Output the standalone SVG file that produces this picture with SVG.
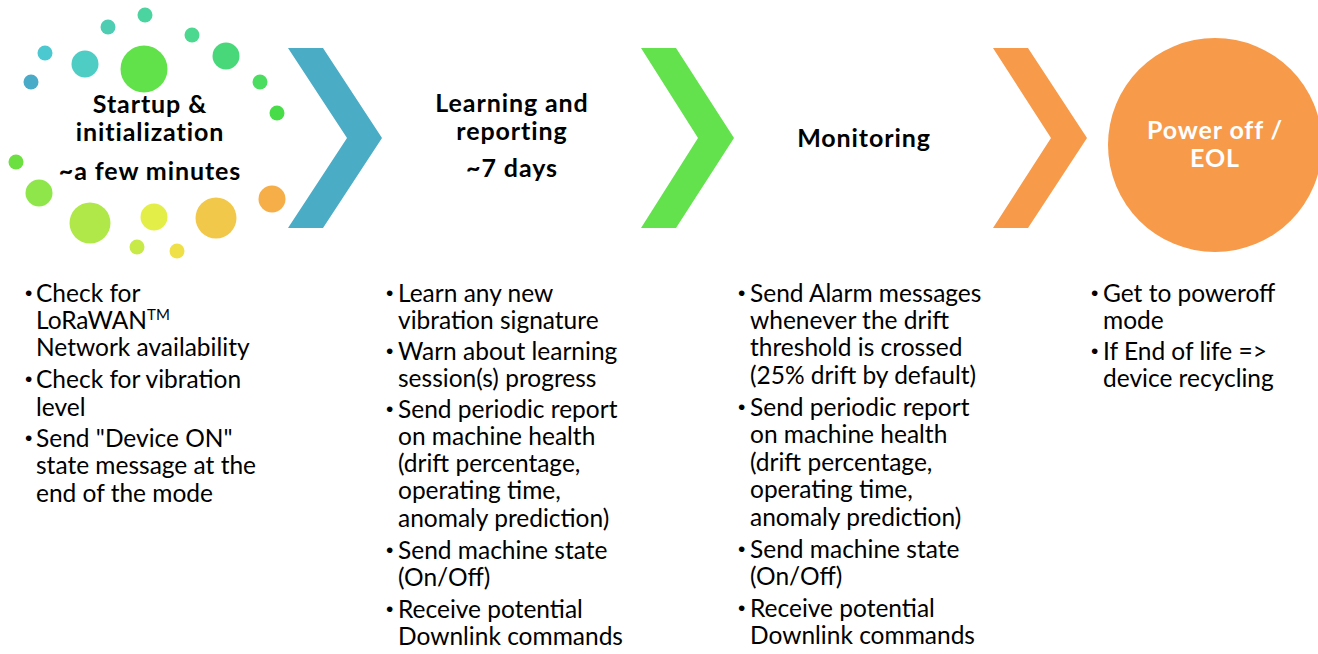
<svg xmlns="http://www.w3.org/2000/svg" width="1318" height="654" viewBox="0 0 1318 654">
<style>
.h{font-family:Lato,"Open Sans","Liberation Sans",sans-serif;font-weight:700;font-size:25px;letter-spacing:0.9px;fill:#000;text-anchor:middle}
.hw{fill:#fff}
.b{font-family:Lato,"Open Sans","Liberation Sans",sans-serif;font-size:24.5px;fill:#000}
.bu{font-family:"Liberation Sans",sans-serif;font-size:21px;fill:#000}
</style>
<rect width="1318" height="654" fill="#fff"/>
<g id="dots">
<circle cx="145" cy="15" r="7.5" fill="#4CD4A0"/>
<circle cx="108" cy="27" r="7.5" fill="#4ECDB3"/>
<circle cx="192" cy="35" r="7.5" fill="#4CD88E"/>
<circle cx="45" cy="53" r="7.5" fill="#4BC8D0"/>
<circle cx="85" cy="64" r="13.5" fill="#4ECDC4"/>
<circle cx="144" cy="69" r="23.5" fill="#62E24A"/>
<circle cx="226" cy="56" r="13.5" fill="#48D87A"/>
<circle cx="31" cy="82" r="7.5" fill="#4AABC8"/>
<circle cx="260" cy="82" r="7.5" fill="#4BDD60"/>
<circle cx="277" cy="113" r="7.5" fill="#48DD48"/>
<circle cx="16" cy="162" r="7.5" fill="#6BE040"/>
<circle cx="39" cy="193" r="13.5" fill="#8EE64A"/>
<circle cx="90" cy="223" r="20.5" fill="#B0E84A"/>
<circle cx="154" cy="217" r="13.5" fill="#E4EE48"/>
<circle cx="216" cy="218" r="20.5" fill="#F2C84A"/>
<circle cx="272" cy="199" r="13.5" fill="#F5AE48"/>
<circle cx="137" cy="247" r="7.5" fill="#C8EA48"/>
<circle cx="177" cy="251" r="7.5" fill="#F0E048"/>
</g>
<g id="startup">
<text class="h" x="150" y="113">Startup &amp;</text>
<text class="h" x="150" y="141">initialization</text>
<text class="h" x="150" y="180">~a few minutes</text>
</g>
<g id="connectors">
<polygon points="288,48 323,48 382,138 323,228 288,228 347,138" fill="#4BACC6"/>
<polygon points="641,48 676,48 734,138 676,228 641,228 698,138" fill="#63E24D"/>
<polygon points="993,48 1028,48 1087,138 1028,228 993,228 1051,138" fill="#F79A4A"/>
</g>
<g id="learning">
<text class="h" x="512" y="112">Learning and</text>
<text class="h" x="512" y="140">reporting</text>
<text class="h" x="512" y="177">~7 days</text>
</g>
<g id="monitoring">
<text class="h" x="864" y="147">Monitoring</text>
</g>
<g id="poweroff">
<circle cx="1215" cy="145" r="107" fill="#F79A4A"/>
<text class="h hw" x="1215" y="139">Power off /</text>
<text class="h hw" x="1215" y="167">EOL</text>
</g>
<g id="list1" class="b">
<text class="bu" x="25" y="300">•</text><text x="36" y="302">Check for</text>
<text x="36" y="329">LoRaWAN<tspan font-size="15" dy="-9">TM</tspan></text>
<text x="36" y="356">Network availability</text>
<text class="bu" x="25" y="386">•</text><text x="36" y="388">Check for vibration</text>
<text x="36" y="416">level</text>
<text class="bu" x="25" y="445">•</text><text x="36" y="447">Send "Device ON"</text>
<text x="36" y="474">state message at the</text>
<text x="36" y="502">end of the mode</text>
</g>
<g id="list2" class="b">
<text class="bu" x="386" y="300">•</text><text x="398" y="302">Learn any new</text>
<text x="398" y="329">vibration signature</text>
<text class="bu" x="386" y="358">•</text><text x="398" y="360">Warn about learning</text>
<text x="398" y="387">session(s) progress</text>
<text class="bu" x="386" y="416">•</text><text x="398" y="418">Send periodic report</text>
<text x="398" y="445">on machine health</text>
<text x="398" y="472">(drift percentage,</text>
<text x="398" y="499">operating time,</text>
<text x="398" y="527">anomaly prediction)</text>
<text class="bu" x="386" y="557">•</text><text x="398" y="559">Send machine state</text>
<text x="398" y="586">(On/Off)</text>
<text class="bu" x="386" y="616">•</text><text x="398" y="618">Receive potential</text>
<text x="398" y="645">Downlink commands</text>
</g>
<g id="list3" class="b">
<text class="bu" x="738" y="300">•</text><text x="750" y="302">Send Alarm messages</text>
<text x="750" y="329">whenever the drift</text>
<text x="750" y="356">threshold is crossed</text>
<text x="750" y="384">(25% drift by default)</text>
<text class="bu" x="738" y="414">•</text><text x="750" y="416">Send periodic report</text>
<text x="750" y="443">on machine health</text>
<text x="750" y="471">(drift percentage,</text>
<text x="750" y="498">operating time,</text>
<text x="750" y="526">anomaly prediction)</text>
<text class="bu" x="738" y="556">•</text><text x="750" y="558">Send machine state</text>
<text x="750" y="585">(On/Off)</text>
<text class="bu" x="738" y="615">•</text><text x="750" y="617">Receive potential</text>
<text x="750" y="644">Downlink commands</text>
</g>
<g id="list4" class="b">
<text class="bu" x="1091" y="300">•</text><text x="1103" y="302">Get to poweroff</text>
<text x="1103" y="329">mode</text>
<text class="bu" x="1091" y="358">•</text><text x="1103" y="360">If End of life =&gt;</text>
<text x="1103" y="387">device recycling</text>
</g>
</svg>
